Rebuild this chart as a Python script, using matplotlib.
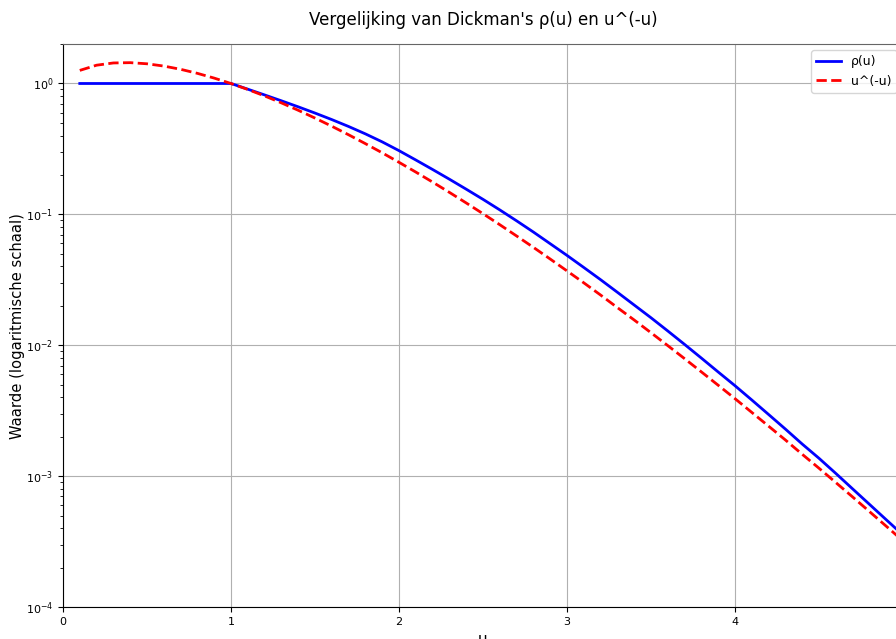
import matplotlib
matplotlib.use("Agg")
import matplotlib.pyplot as plt

# u grid (0.1 .. 5.0, step 0.1) and values
u_vals = [0.1, 0.2, 0.3, 0.4, 0.5, 0.6, 0.7, 0.8, 0.9, 1.0,
          1.1, 1.2, 1.3, 1.4, 1.5, 1.6, 1.7, 1.8, 1.9, 2.0,
          2.1, 2.2, 2.3, 2.4, 2.5, 2.6, 2.7, 2.8, 2.9, 3.0,
          3.1, 3.2, 3.3, 3.4, 3.5, 3.6, 3.7, 3.8, 3.9, 4.0,
          4.1, 4.2, 4.3, 4.4, 4.5, 4.6, 4.7, 4.8, 4.9, 5.0]

rho_vals = [1.0, 1.0, 1.0, 1.0, 1.0, 1.0, 1.0, 1.0, 1.0, 1.0,
            0.9047, 0.8177, 0.7376, 0.6635, 0.5945, 0.5300, 0.4694, 0.4122, 0.3581, 0.3069,
            0.2604, 0.2203, 0.1857, 0.1558, 0.1303, 0.1082, 0.0893, 0.0733, 0.0597, 0.0486,
            0.0393, 0.0317, 0.0254, 0.0203, 0.01623, 0.01286, 0.01015, 0.00798, 0.00625, 0.00491,
            0.00382, 0.00296, 0.00229, 0.00176, 0.00137, 0.00105, 0.00080, 0.00061, 0.000465, 0.000355]

uu_vals = [1.2589, 1.3797, 1.4351, 1.4427, 1.4142, 1.3587, 1.2836, 1.1954, 1.0995, 1.0,
           0.9005, 0.8035, 0.7110, 0.6244, 0.5443, 0.4714, 0.4057, 0.3471, 0.2954, 0.25,
           0.2105, 0.1765, 0.1473, 0.1223, 0.1012, 0.0834, 0.0684, 0.0560, 0.0456, 0.0370,
           0.0300, 0.0242, 0.0194, 0.0156, 0.01247, 0.00994, 0.00790, 0.00626, 0.00495, 0.00391,
           0.00307, 0.00241, 0.00189, 0.00147, 0.00115, 0.000894, 0.000694, 0.000537, 0.000415, 0.00032]

fig = plt.figure(figsize=(8.96, 6.39), dpi=100)
ax = fig.add_axes([0.0703, 0.05, 0.9375, 0.881])

ax.plot(u_vals, rho_vals, color='blue', linewidth=2, label='ρ(u)')
ax.plot(u_vals, uu_vals, color='red', linestyle='--', linewidth=2, label='u^(-u)')

ax.set_yscale('log')
ax.set_xlim(0, 5)
ax.set_ylim(1e-4, 2)

ax.set_title("Vergelijking van Dickman's ρ(u) en u^(-u)", fontsize=12, pad=14)
ax.set_xlabel('u', fontsize=11)
ax.set_ylabel('Waarde (logaritmische schaal)', fontsize=10.6, labelpad=1)
ax.tick_params(labelsize=8)
ax.spines['top'].set_color('#666666')
ax.grid(True)
ax.legend(loc='upper right', fontsize=9)

fig.savefig('out.png', dpi=100)
